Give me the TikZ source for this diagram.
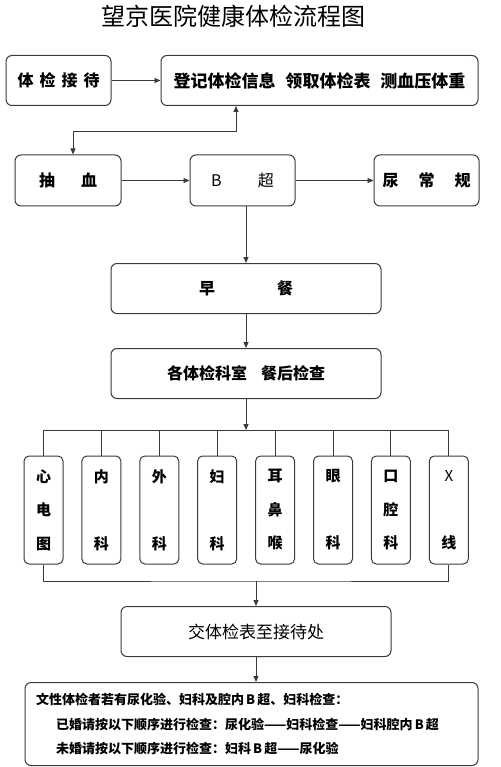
\documentclass[tikz,border=0pt]{standalone}
\usepackage{fontspec}
\setmainfont{Noto Sans CJK SC}
\usetikzlibrary{arrows.meta,positioning}
\definecolor{wjLine}{HTML}{3A3A3A}

\begin{document}
\begin{tikzpicture}[x=1pt,y=-1pt,node distance=20pt,
box/.style={draw=wjLine,line width=1pt,rounded corners=6pt,minimum height=50pt,inner sep=0pt,font=\fontsize{16}{16}\selectfont\bfseries},
col/.style={draw=wjLine,line width=1pt,rounded corners=5pt,minimum width=39pt,minimum height=108pt,inner sep=0pt,align=center,font=\fontsize{15}{33.5}\selectfont\bfseries},
arr/.style={wjLine,line width=.9pt,-{Triangle[length=6pt,width=5pt]}},
darr/.style={wjLine,line width=.9pt,{Triangle[length=6pt,width=5pt]}-{Triangle[length=6pt,width=5pt]}},
ln/.style={wjLine,line width=.9pt}]
\useasboundingbox (0,0) rectangle (500,767);
\node[font=\fontsize{24}{24}\selectfont] (title) at (233,16) {望京医院健康体检流程图};
\node[box,minimum width=105pt] (jd) at (58.5,80.5) {体\hspace{6pt}检\hspace{6pt}接\hspace{6pt}待};
\node[box,minimum width=317pt,right=49pt of jd,font=\fontsize{17}{17}\selectfont\bfseries] (dj) {登记体检信息\hspace{10pt}领取体检表\hspace{10pt}测血压体重};
\node[box,minimum width=106pt,minimum height=51pt] (cx) at (68,180.5) {抽\hspace{26pt}血};
\node[box,minimum width=105pt,minimum height=51pt,right=68pt of cx,font=\fontsize{16}{16}\selectfont] (bc) {B\hspace{36pt}超};
\node[box,minimum width=105pt,minimum height=51pt,right=78pt of bc] (nc) {尿\hspace{20pt}常\hspace{20pt}规};
\node[box,minimum width=270pt] (zc) at (246,288.5) {早\hspace{62pt}餐};
\node[box,minimum width=270pt,below=34pt of zc] (ks) {各体检科室\hspace{14pt}餐后检查};
% departments
\foreach \i/\txt in {0/{心\\电\\图},1/{内\\ \\科},2/{外\\ \\科},3/{妇\\ \\科},4/{耳\\鼻\\喉},5/{眼\\ \\科},6/{口\\腔\\科},7/{{\mdseries X}\\ \\线}}
  \node[col] (k\i) at (43.5+57.9*\i,510) {\txt};
\coordinate (bt) at (246,430);
\coordinate (bb) at (256,581);
\node[box,minimum width=270pt,below=25pt of bb,font=\fontsize{17}{17}\selectfont] (jt) {交体检表至接待处};
\node[box,minimum width=453pt,minimum height=83pt,below=25pt of jt,xshift=-4.5pt,align=left,text width=431pt,inner xsep=11pt,font=\fontsize{13}{24.5}\selectfont\bfseries] (nt) {文性体检者若有尿化验、妇科及腔内\,B\,超、妇科检查：\\
\hspace*{20pt}已婚请按以下顺序进行检查：尿化验——妇科检查——妇科腔内\,B\,超\\
\hspace*{20pt}未婚请按以下顺序进行检查：妇科\,B\,超——尿化验};
% connectors
\coordinate (c1) at (236,131);
\coordinate (c2) at (73,131);
\draw[arr] (jd) -- (dj);
\draw[darr] (c1 |- dj.south) -- (c1) -- (c2) -- (c2 |- cx.north);
\draw[arr] (cx) -- (bc);
\draw[arr] (bc) -- (nc);
\draw[arr] (zc.north |- bc.south) -- (zc.north);
\draw[arr] (zc) -- (ks);
\draw[arr] (ks.south) -- (ks.south |- bt);
\draw[ln] (k0.north) -- (k0.north |- bt) -- (k7.north |- bt) -- (k7.north);
\foreach \i in {1,...,6}
  \draw[ln] (k\i.north) -- (k\i.north |- bt);
\draw[ln] (k0.south) |- (bb) -| (k7.south);
\draw[arr] (bb) -- (jt);
\draw[arr] (jt) -- (jt.south |- nt.north);
\end{tikzpicture}
\end{document}
